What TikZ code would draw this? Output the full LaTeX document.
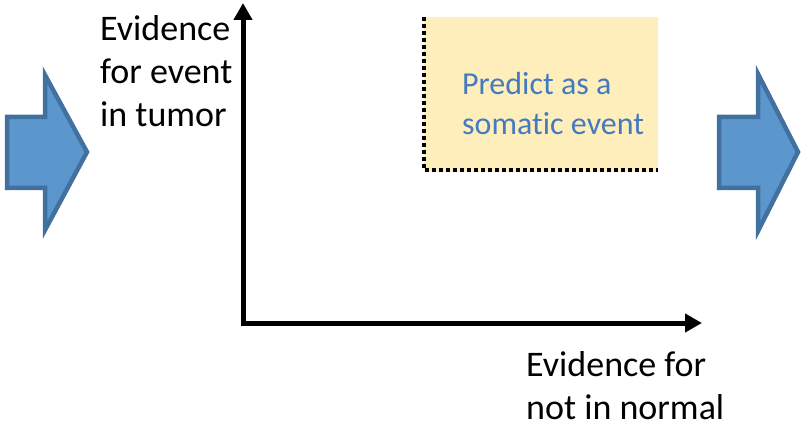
\documentclass[tikz,border=0pt]{standalone}
\usepackage{fontspec}
\setmainfont{Carlito}[Ligatures=NoCommon]
\usetikzlibrary{arrows.meta,positioning}
\definecolor{arrowfill}{RGB}{91,150,205}
\definecolor{arrowline}{RGB}{66,113,160}
\definecolor{boxfill}{RGB}{253,238,188}
\definecolor{boxtext}{RGB}{68,122,190}
\tikzstyle{bigarrow} = [fill=arrowfill, draw=arrowline, line width=4.5pt, line join=miter]
\tikzstyle{axis} = [line width=5pt, -{Triangle[length=17pt,width=18pt]}]
\tikzstyle{lbl} = [align=left, inner sep=0pt, font=\fontsize{36}{43}\selectfont]
\tikzstyle{boxlbl} = [align=left, inner sep=0pt, text=boxtext, font=\fontsize{32}{40}\selectfont]
\begin{document}
\begin{tikzpicture}[x=1pt, y=-1pt]
\useasboundingbox (0,0) rectangle (804,425);
% big arrows left and right
\draw[bigarrow] (7,117)--(45,117)--(45,75)--(87,152)--(45,230)--(45,188)--(7,188)--cycle;
\draw[bigarrow] (719,117)--(758,117)--(758,74)--(798,152)--(758,231)--(758,188)--(719,188)--cycle;
% somatic region
\fill[boxfill] (424,17) rectangle (658,172);
\draw[line width=4pt, dash pattern=on 4pt off 3pt] (424,17)--(424,170)--(658,170);
\node(P)[boxlbl, anchor=north west] at (462,72) {Predict as a\\somatic event};
% axes
\coordinate (O) at (243,323);
\coordinate (Y) at (243,3);
\coordinate (X) at (702,323);
\draw[axis] (O) -- (Y);
\draw[axis] ([xshift=-2.5pt]O) -- (X);
\node(YL)[lbl, anchor=north west] at (100,15.5) {Evidence\\for event\\in tumor};
\node(XL)[lbl, anchor=north west] at (526,351.5) {Evidence for\\not in normal};
\end{tikzpicture}
\end{document}
